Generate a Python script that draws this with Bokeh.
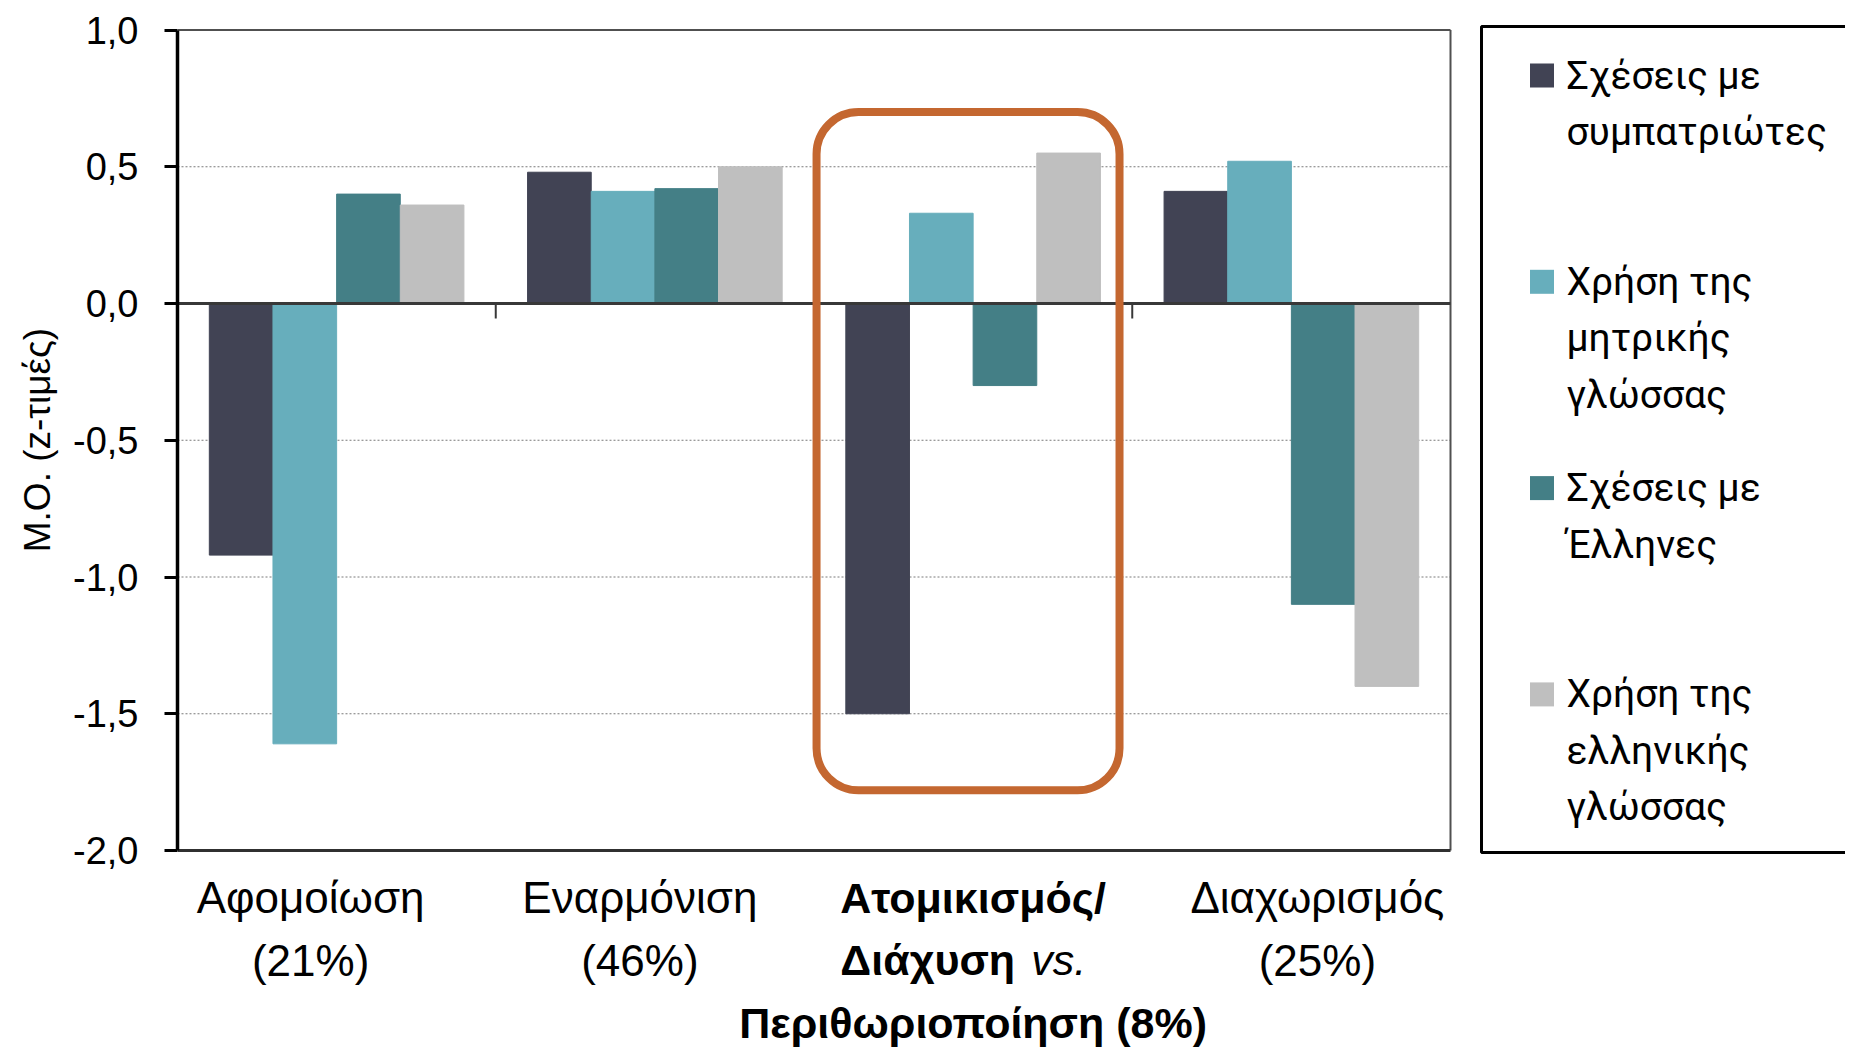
from bokeh.plotting import figure
from bokeh.models import Range1d, FixedTicker, BoxAnnotation, ColumnDataSource, Title
from bokeh.core.properties import value
from bokeh.embed import file_html
from bokeh.resources import INLINE

# ---------------- data ----------------
category_lines = [
    ["Αφομοίωση", "(21%)"],
    ["Εναρμόνιση", "(46%)"],
    ["Ατομικισμός/", "Διάχυση vs.", "Περιθωριοποίηση (8%)"],
    ["Διαχωρισμός", "(25%)"],
]
highlight_idx = 2

series_names = [
    "Σχέσεις με\nσυμπατριώτες",
    "Χρήση της\nμητρικής\nγλώσσας",
    "Σχέσεις με\nΈλληνες",
    "Χρήση της\nελληνικής\nγλώσσας",
]
series_colors = ["#414354", "#67AEBC", "#447F86", "#BFBFBF"]

v_compatriots = [-0.92, 0.48, -1.50, 0.41]
v_mother_tongue = [-1.61, 0.41, 0.33, 0.52]
v_greeks = [0.40, 0.42, -0.30, -1.10]
v_greek_language = [0.36, 0.50, 0.55, -1.40]
series_values = [v_compatriots, v_mother_tongue, v_greeks, v_greek_language]

y_tick_values = [-2.0, -1.5, -1.0, -0.5, 0.0, 0.5, 1.0]
y_tick_labels = ["-2,0", "-1,5", "-1,0", "-0,5", "0,0", "0,5", "1,0"]
y_label = "Μ.Ο. (z-τιμές)"

# ---------------- layout (page pixels) ----------------
FONT = "Liberation Sans"
FIG_W, FIG_H = 1845, 1050
LEFT = 177                      # x of the bar area's left edge
PLOT_W_PX = 1273                # width of the bar area
PLOT_TOP_PX, PLOT_BOTTOM_PX = 29.5, 850
label_dx_px = [-26, -15, 0, 26]  # horizontal nudges of the category labels
n_cat = len(category_lines)
n_ser = len(series_values)
ymin, ymax = y_tick_values[0], y_tick_values[-1]

frame_w = FIG_W - LEFT
ppx = PLOT_W_PX / n_cat
ppy = (PLOT_BOTTOM_PX - PLOT_TOP_PX) / (ymax - ymin)
x_end = frame_w / ppx
y_top = ymax + PLOT_TOP_PX / ppy
y_bot = ymin - (FIG_H - PLOT_BOTTOM_PX) / ppy


def dx(px):          # page x -> data x
    return (px - LEFT) / ppx


def dy(px):          # page y -> data y
    return y_top - px / ppy


group_width = 0.8
bar_w = group_width / n_ser

p = figure(width=FIG_W, height=FIG_H,
           x_range=Range1d(0, x_end), y_range=Range1d(y_bot, y_top),
           x_axis_type=None,
           output_backend="svg", toolbar_location=None,
           min_border_left=LEFT, min_border_right=0, min_border_top=0, min_border_bottom=0)
p.background_fill_color = "white"
p.border_fill_color = "white"
p.outline_line_color = None
p.grid.visible = False

# gridlines (only across the bar area)
grid_vals = [t for t in y_tick_values[1:-1] if t != 0]
p.segment(x0=[0] * len(grid_vals), x1=[n_cat] * len(grid_vals), y0=grid_vals, y1=grid_vals,
          line_color="#7a7a7a", line_width=1, line_dash="2 2")

# bars
for j, (vals, col) in enumerate(zip(series_values, series_colors)):
    xs = [i + (1 - group_width) / 2 + bar_w * (j + 0.5) for i in range(n_cat)]
    src = ColumnDataSource(dict(x=xs, top=vals))
    p.vbar(x="x", top="top", bottom=0, width=bar_w, source=src,
           fill_color=col, line_color=col, line_width=1)

# plot-area border
p.segment(x0=[0, n_cat], y0=[ymax, ymax], x1=[n_cat, n_cat], y1=[ymax, ymin],
          line_color="#505050", line_width=2)
p.segment(x0=[0], y0=[ymin], x1=[n_cat], y1=[ymin], line_color="#303030", line_width=3)

# zero line and category separators
p.segment(x0=[0], y0=[0], x1=[n_cat], y1=[0], line_color="#383838", line_width=3)
sep_x = list(range(1, n_cat))
p.segment(x0=sep_x, y0=[0] * len(sep_x), x1=sep_x, y1=[-15 / ppy] * len(sep_x),
          line_color="#383838", line_width=2)

# y axis
p.yaxis.bounds = (ymin, ymax)
p.yaxis.ticker = FixedTicker(ticks=y_tick_values)
p.yaxis.major_label_overrides = {v: l for v, l in zip(y_tick_values, y_tick_labels)}
p.yaxis.axis_line_color = "black"
p.yaxis.axis_line_width = 3.5
p.yaxis.major_tick_line_color = "black"
p.yaxis.major_tick_line_width = 3
p.yaxis.major_tick_out = 13
p.yaxis.major_tick_in = 0
p.yaxis.minor_tick_line_color = None
p.yaxis.major_label_standoff = 26
p.yaxis.major_label_text_font = FONT
p.yaxis.major_label_text_font_size = "38px"
p.yaxis.major_label_text_color = "black"

# y-axis title, centred on the bar area (not on the whole frame)
plot_mid = (PLOT_TOP_PX + PLOT_BOTTOM_PX) / 2
title_half_len = 112
p.add_layout(Title(text=y_label, align="left", offset=FIG_H - (plot_mid + title_half_len),
                   standoff=26, text_font=FONT, text_font_size="37px",
                   text_font_style="normal", text_color="black"), "left")

# highlight box around the highlighted category
p.add_layout(BoxAnnotation(left=highlight_idx + 0.008, right=highlight_idx + 0.96,
                           top=0.70, bottom=-1.78,
                           fill_color=None, fill_alpha=0,
                           line_color="#C46730", line_alpha=1, line_width=8,
                           border_radius=42))

# category labels (below the bar area)
first_px, line_pitch = 897, 62.5
for i, lines in enumerate(category_lines):
    cx = i + 0.5 + label_dx_px[i] / ppx
    bold = (i == highlight_idx)
    fs = "43px" if bold else "44px"
    for k, line in enumerate(lines):
        ly = dy(first_px + k * line_pitch)
        if " vs." in line:
            left_part = line.replace(" vs.", "")
            p.text(x=[cx + 42 / ppx], y=[ly], text=[left_part],
                   text_align="right", text_baseline="middle",
                   text_font=value(FONT), text_font_size=fs,
                   text_font_style="bold", text_color="black")
            p.text(x=[cx + 58 / ppx], y=[ly], text=["vs."],
                   text_align="left", text_baseline="middle",
                   text_font=value(FONT), text_font_size=fs,
                   text_font_style="italic", text_color="black")
        else:
            p.text(x=[cx], y=[ly], text=[line],
                   text_align="center", text_baseline="middle",
                   text_font=value(FONT), text_font_size=fs,
                   text_font_style="bold" if bold else "normal", text_color="black")

# ---------------- legend (right of the bar area) ----------------
p.add_layout(BoxAnnotation(left=dx(1481), right=x_end + 1, top=dy(26), bottom=dy(852),
                           fill_color=None, fill_alpha=0,
                           line_color="black", line_alpha=1, line_width=3))
item_first, item_pitch, text_pitch = 75, 206.3, 56.5
sq_x, txt_x = dx(1541.5), dx(1566)
for j, (name, col) in enumerate(zip(series_names, series_colors)):
    yc = item_first + j * item_pitch
    p.scatter(x=[sq_x], y=[dy(yc)], marker="square", size=24,
              fill_color=col, line_color=None)
    lines = name.split("\n")
    p.text(x=[txt_x] * len(lines), y=[dy(yc + k * text_pitch) for k in range(len(lines))],
           text=lines, text_align="left", text_baseline="middle",
           text_font=value("Roboto"), text_font_size="39px", text_color="black")

open("out.html", "w").write(file_html(p, INLINE))
